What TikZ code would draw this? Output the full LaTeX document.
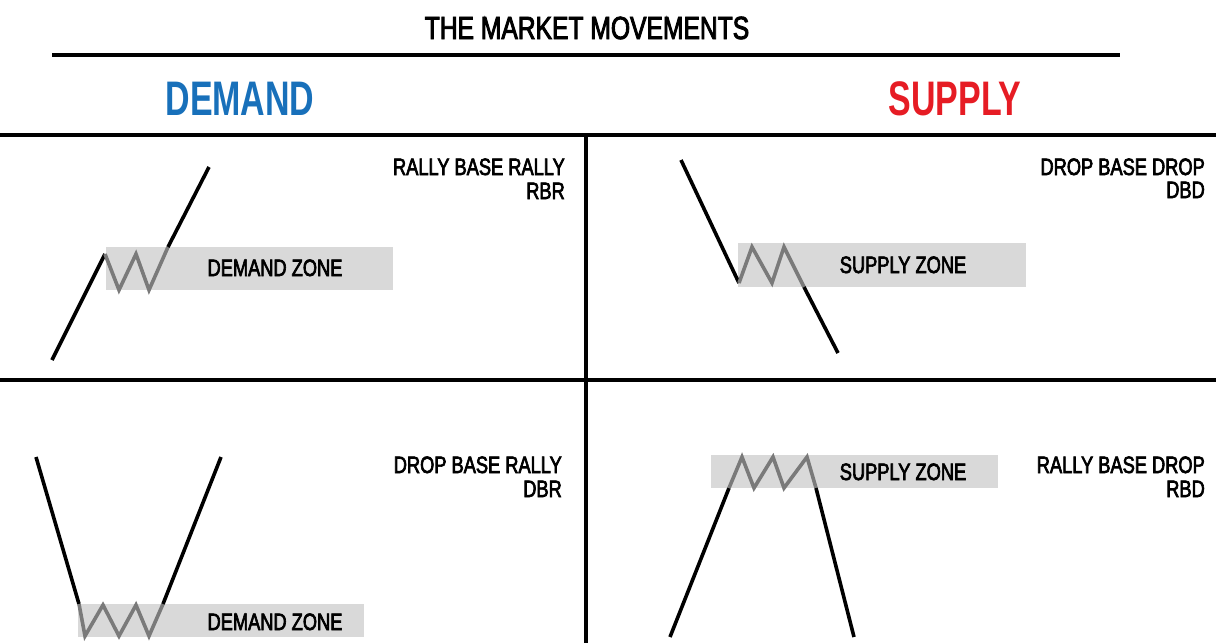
\documentclass[tikz,border=0pt]{standalone}
\usepackage{fontspec}
\setmainfont{Liberation Sans}[FakeStretch=0.77,FakeBold=2.8]
\newfontfamily\headfont{Liberation Sans Bold}[FakeStretch=0.7]
\usepackage{tikz}
\usepackage{color}
\definecolor{demandblue}{RGB}{24,112,186}
\definecolor{supplyred}{RGB}{230,28,36}
\definecolor{zonegray}{RGB}{217,217,217}
\definecolor{zigzaggray}{RGB}{122,122,122}

\begin{document}
\begin{tikzpicture}[x=1pt,y=-1pt,
	move/.style={line width=3.6pt},
	basezig/.style={draw=zigzaggray,line width=3.6pt,line join=miter},
	zone/.style={fill=zonegray},
	rule/.style={line width=4.5pt},
	lbl/.style={inner sep=0pt,font=\fontsize{23.7}{26}\selectfont},
	head/.style={inner sep=0pt,font=\headfont\fontsize{48.5}{52}\selectfont}]
		\path[use as bounding box] (0,0) rectangle (1216,643);
		% title and headers
		\node[inner sep=0pt,anchor=base,font=\fontsize{32}{34}\selectfont] (title) at (587,39) {THE MARKET MOVEMENTS};
		\draw[line width=4pt] (52,55) -- (1120,55);
		\node[head,anchor=base,text=demandblue] (demand) at (240,115) {DEMAND};
		\node[head,anchor=base,text=supplyred] (supply) at (955,115) {SUPPLY};
		% grid
		\draw[rule] (0,135) -- (1216,135);
		\draw[rule] (0,380) -- (1216,380);
		\draw[rule] (586,135) -- (586,643);
		% rally base rally
		\fill[zone] (106,247) rectangle (393,290);
		\draw[move] (52,360) -- (105,254);
		\draw[basezig] (105,254) -- (119,290) -- (136,254) -- (149,290) -- (168,247);
		\draw[move] (168,247) -- (209,167);
		\node[lbl,anchor=base] (rbrzone) at (275,276) {DEMAND ZONE};
		\node[lbl,anchor=base east] (rbr) at (565,175) {RALLY BASE RALLY};
		\node[lbl,anchor=base east] (rbrshort) at (565,199) {RBR};
		% drop base drop
		\fill[zone] (738,243) rectangle (1026,287);
		\draw[move] (681,160) -- (739,283);
		\draw[basezig] (739,283) -- (752,247) -- (772,283) -- (784,247) -- (804,287);
		\draw[move] (804,287) -- (838,353);
		\node[lbl,anchor=base] (dbdzone) at (903,273) {SUPPLY ZONE};
		\node[lbl,anchor=base east] (dbd) at (1205,175) {DROP BASE DROP};
		\node[lbl,anchor=base east] (dbdshort) at (1205,198) {DBD};
		% drop base rally
		\fill[zone] (78,604) rectangle (364,637);
		\draw[move] (36,457) -- (79,604);
		\draw[basezig] (79,604) -- (85,636) -- (103,605) -- (119,636) -- (136,605) -- (149,636) -- (163,604);
		\draw[move] (163,604) -- (221,457);
		\node[lbl,anchor=base] (dbrzone) at (275,630) {DEMAND ZONE};
		\node[lbl,anchor=base east] (dbr) at (562,473) {DROP BASE RALLY};
		\node[lbl,anchor=base east] (dbrshort) at (562,497) {DBR};
		% rally base drop
		\fill[zone] (711,455) rectangle (998,488);
		\draw[move] (670,637) -- (729,488);
		\draw[basezig] (729,488) -- (742,457) -- (754,488) -- (773,457) -- (784,488) -- (807,457) -- (816,488);
		\draw[move] (816,488) -- (854,637);
		\node[lbl,anchor=base] (rbdzone) at (903,480) {SUPPLY ZONE};
		\node[lbl,anchor=base east] (rbd) at (1205,473) {RALLY BASE DROP};
		\node[lbl,anchor=base east] (rbdshort) at (1205,497) {RBD};
	\end{tikzpicture}
\end{document}
